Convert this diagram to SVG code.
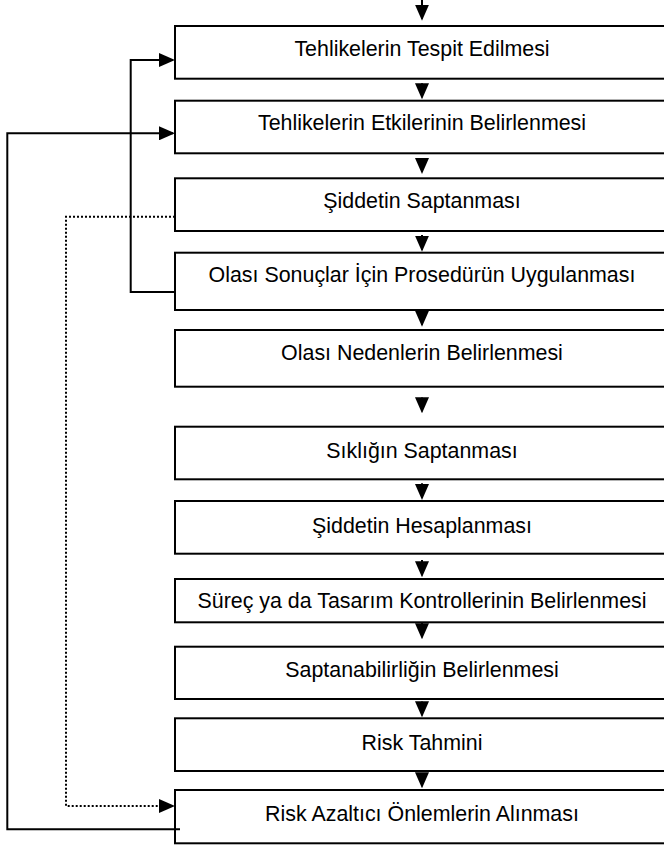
<svg xmlns="http://www.w3.org/2000/svg" width="664" height="846" viewBox="0 0 664 846">
<style>
.box{fill:#fff;stroke:#000;stroke-width:2}
.lbl{font-family:"Liberation Sans",Arial,sans-serif;font-size:21.4px;fill:#000;text-anchor:middle}
.con{fill:none;stroke:#000;stroke-width:2}
.dot{fill:none;stroke:#000;stroke-width:2;stroke-dasharray:2 2}
</style>
<defs>
<marker id="ah" markerUnits="userSpaceOnUse" viewBox="0 0 16 14" markerWidth="16" markerHeight="14" refX="14" refY="7" orient="auto">
<path d="M0,0 L16,7 L0,14 z" fill="#000"/>
</marker>
</defs>
<g id="n1"><rect class="box" x="175" y="26" width="494" height="52.7"/><text class="lbl" x="422" y="55.5">Tehlikelerin Tespit Edilmesi</text></g>
<g id="n2"><rect class="box" x="175" y="100.7" width="494" height="52.6"/><text class="lbl" x="422" y="130">Tehlikelerin Etkilerinin Belirlenmesi</text></g>
<g id="n3"><rect class="box" x="175" y="178.3" width="494" height="52.7"/><text class="lbl" x="422" y="208.3">Şiddetin Saptanması</text></g>
<g id="n4"><rect class="box" x="175" y="252.7" width="494" height="57.3"/><text class="lbl" x="422" y="281.7">Olası Sonuçlar İçin Prosedürün Uygulanması</text></g>
<g id="n5"><rect class="box" x="175" y="330" width="494" height="56.7"/><text class="lbl" x="422" y="360">Olası Nedenlerin Belirlenmesi</text></g>
<g id="n6"><rect class="box" x="175" y="426.7" width="494" height="52.6"/><text class="lbl" x="422" y="458.3">Sıklığın Saptanması</text></g>
<g id="n7"><rect class="box" x="175" y="501" width="494" height="52.7"/><text class="lbl" x="422" y="532.7">Şiddetin Hesaplanması</text></g>
<g id="n8"><rect class="box" x="175" y="579" width="494" height="43.3"/><text class="lbl" x="422" y="608.3">Süreç ya da Tasarım Kontrollerinin Belirlenmesi</text></g>
<g id="n9"><rect class="box" x="175" y="646.7" width="494" height="52.3"/><text class="lbl" x="422" y="676.7">Saptanabilirliğin Belirlenmesi</text></g>
<g id="n10"><rect class="box" x="175" y="718.3" width="494" height="52.7"/><text class="lbl" x="422" y="750">Risk Tahmini</text></g>
<g id="n11"><rect class="box" x="175" y="790" width="494" height="53.3"/><text class="lbl" x="422" y="820.7">Risk Azaltıcı Önlemlerin Alınması</text></g>
<g id="connectors">
<line class="con" x1="422" y1="0" x2="422" y2="18.7" marker-end="url(#ah)"/>
<line class="con" x1="422" y1="83.3" x2="422" y2="97.3" marker-end="url(#ah)"/>
<line class="con" x1="422" y1="158" x2="422" y2="172" marker-end="url(#ah)"/>
<line class="con" x1="422" y1="235" x2="422" y2="249.7" marker-end="url(#ah)"/>
<line class="con" x1="422" y1="311.5" x2="422" y2="324.7" marker-end="url(#ah)"/>
<line class="con" x1="422" y1="397.5" x2="422" y2="411.3" marker-end="url(#ah)"/>
<line class="con" x1="422" y1="483.3" x2="422" y2="498" marker-end="url(#ah)"/>
<line class="con" x1="422" y1="560" x2="422" y2="575.3" marker-end="url(#ah)"/>
<line class="con" x1="422" y1="622.3" x2="422" y2="637.3" marker-end="url(#ah)"/>
<line class="con" x1="422" y1="701.5" x2="422" y2="715.3" marker-end="url(#ah)"/>
<line class="con" x1="422" y1="773" x2="422" y2="786.3" marker-end="url(#ah)"/>
<polyline class="con" points="175,292 130.7,292 130.7,60 173,60" marker-end="url(#ah)"/>
<polyline class="con" points="180,829.3 7.3,829.3 7.3,133.3 173,133.3" marker-end="url(#ah)"/>
<polyline class="dot" points="175,216.7 66,216.7 66,806 160,806"/>
<line class="con" x1="160" y1="806" x2="173" y2="806" stroke-opacity="0" marker-end="url(#ah)"/>
</g>
</svg>
